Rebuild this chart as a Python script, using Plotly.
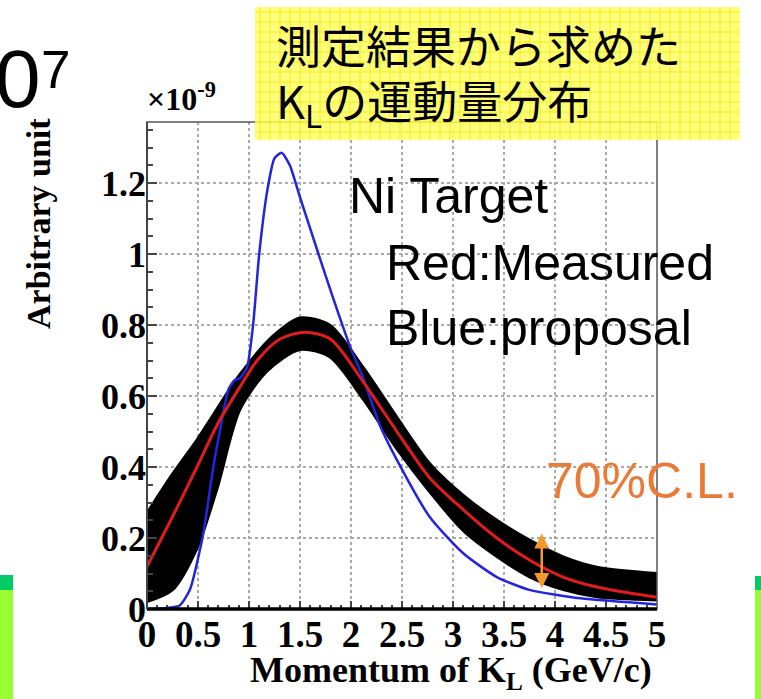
import plotly.graph_objects as go

# ---------------- data ----------------
blue_x = [0, 0.2, 0.32, 0.42, 0.55, 0.65, 0.72, 0.80, 0.86, 0.91, 0.98, 1.04, 1.10, 1.18,
          1.25, 1.32, 1.40, 1.50, 1.67, 1.82, 1.99, 2.12, 2.28, 2.45, 2.77, 3.10, 3.43,
          3.75, 4.25, 5.0]
blue_y = [0, 0.003, 0.01, 0.054, 0.21, 0.40, 0.51, 0.62, 0.645, 0.65, 0.68, 0.80, 1.00, 1.18,
          1.27, 1.285, 1.25, 1.16, 1.01, 0.88, 0.74, 0.65, 0.52, 0.42, 0.26, 0.157, 0.09,
          0.054, 0.03, 0.013]

red_x = [0, 0.25, 0.49, 0.69, 0.91, 1.08, 1.30, 1.55, 1.80, 2.12, 2.45, 2.77, 3.10, 3.43,
         3.75, 4.08, 4.41, 5.0]
red_y = [0.12, 0.26, 0.40, 0.52, 0.625, 0.70, 0.76, 0.78, 0.76, 0.64, 0.50, 0.37, 0.28, 0.20,
         0.138, 0.09, 0.062, 0.033]

band_up_x = [0, 0.25, 0.49, 0.59, 0.91, 1.24, 1.50, 1.79, 2.12, 2.45, 2.77, 3.10, 3.43, 3.75,
             4.08, 4.41, 5.0]
band_up_y = [0.27, 0.38, 0.476, 0.52, 0.66, 0.77, 0.82, 0.80, 0.68, 0.54, 0.41, 0.32, 0.25,
             0.194, 0.147, 0.118, 0.10]

band_lo_x = [0, 0.25, 0.49, 0.69, 0.91, 1.18, 1.50, 1.79, 2.12, 2.45, 2.77, 3.10, 3.43, 3.75,
             4.08, 4.41, 5.0]
band_lo_y = [0.02, 0.053, 0.17, 0.34, 0.56, 0.67, 0.73, 0.71, 0.59, 0.45, 0.33, 0.22, 0.147,
             0.09, 0.054, 0.034, 0.025]

arrow_x = 3.87
arrow_y = [0.059, 0.217]

x_ticks = [0, 0.5, 1, 1.5, 2, 2.5, 3, 3.5, 4, 4.5, 5]
x_ticklabels = ["0", "0.5", "1", "1.5", "2", "2.5", "3", "3.5", "4", "4.5", "5"]
y_ticks = [0, 0.2, 0.4, 0.6, 0.8, 1.0, 1.2]
y_ticklabels = ["0", "0.2", "0.4", "0.6", "0.8", "1", "1.2"]

# ---------------- geometry helpers (pixel -> paper) ----------------
W, H = 761, 699
L, R, T, B = 147, 657, 122, 609


def PX(px):
    return (px - L) / (R - L)


def PY(py):
    return (B - py) / (B - T)


fig = go.Figure()

# black 70% C.L. band
fig.add_trace(go.Scatter(x=band_lo_x, y=band_lo_y, mode="lines",
                         line=dict(color="black", width=2.5, shape="spline", smoothing=0.8),
                         hoverinfo="skip", showlegend=False))
fig.add_trace(go.Scatter(x=band_up_x, y=band_up_y, mode="lines", fill="tonexty",
                         fillcolor="black",
                         line=dict(color="black", width=3, shape="spline", smoothing=0.8),
                         hoverinfo="skip", showlegend=False))
# blue proposal
fig.add_trace(go.Scatter(x=blue_x, y=blue_y, mode="lines",
                         line=dict(color="#2424DD", width=2.5, shape="spline", smoothing=0.6),
                         showlegend=False))
# red measured
fig.add_trace(go.Scatter(x=red_x, y=red_y, mode="lines",
                         line=dict(color="#E21B1B", width=3, shape="spline", smoothing=0.8),
                         showlegend=False))

shapes = []
# plot frame
shapes.append(dict(type="rect", xref="paper", yref="paper", x0=0, x1=1, y0=0, y1=1,
                   line=dict(color="#555555", width=1.5), layer="above"))
shapes.append(dict(type="line", xref="paper", yref="paper", x0=0, x1=1, y0=0, y1=0,
                   line=dict(color="black", width=3.5), layer="above"))
shapes.append(dict(type="line", xref="paper", yref="paper", x0=0, x1=0, y0=0, y1=1,
                   line=dict(color="#444444", width=2), layer="above"))

# yellow box with grid
bx0, bx1, by0, by1 = 255, 740, 7, 140
shapes.append(dict(type="rect", xref="paper", yref="paper",
                   x0=PX(bx0), x1=PX(bx1), y0=PY(by1), y1=PY(by0),
                   fillcolor="rgba(255,255,105,0.88)", line=dict(width=0), layer="above"))
segs = []
gx = bx0 + 5
while gx < bx1:
    segs.append(f"M{PX(gx):.5f},{PY(by0):.5f} L{PX(gx):.5f},{PY(by1):.5f}")
    gx += 10
gy = by0 + 5
while gy < by1:
    segs.append(f"M{PX(bx0):.5f},{PY(gy):.5f} L{PX(bx1):.5f},{PY(gy):.5f}")
    gy += 10
shapes.append(dict(type="path", xref="paper", yref="paper", path=" ".join(segs),
                   line=dict(color="rgba(240,228,0,0.75)", width=1), layer="above"))

# green bars at the bottom edges
for (x0, x1, ytop) in [(-5, 13, 575), (755, 770, 576)]:
    shapes.append(dict(type="rect", xref="paper", yref="paper",
                       x0=PX(x0), x1=PX(x1), y0=PY(590), y1=PY(ytop),
                       fillcolor="#00CC66", line=dict(width=0), layer="above"))
    shapes.append(dict(type="rect", xref="paper", yref="paper",
                       x0=PX(x0), x1=PX(x1), y0=PY(710), y1=PY(590),
                       fillcolor="#99FF33", line=dict(width=0), layer="above"))

ann = []
sans = "Liberation Sans"
serif = "Liberation Serif"
jp = "Noto Sans CJK JP"

# big "0^7" fragment at top-left
ann.append(dict(xref="paper", yref="paper", x=PX(-7), y=PY(79), xanchor="left", yanchor="middle",
                text="0", showarrow=False, font=dict(family=sans, size=82, color="black")))
ann.append(dict(xref="paper", yref="paper", x=PX(39), y=PY(69), xanchor="left", yanchor="middle",
                text="7", showarrow=False, font=dict(family=sans, size=53, color="black")))

# Japanese box text
ann.append(dict(xref="paper", yref="paper", x=PX(274), y=PY(45), xanchor="left", yanchor="middle",
                text="測定結果から求めた", showarrow=False,
                font=dict(family=jp, size=45, color="black")))
ann.append(dict(xref="paper", yref="paper", x=PX(274), y=PY(102), xanchor="left", yanchor="middle",
                text="K<sub>L</sub>の運動量分布", showarrow=False,
                font=dict(family=jp, size=45, color="black")))

# legend-like text
ann.append(dict(xref="paper", yref="paper", x=PX(347), y=PY(196), xanchor="left", yanchor="middle",
                text="Ni Target", showarrow=False, font=dict(family=sans, size=50, color="black")))
ann.append(dict(xref="paper", yref="paper", x=PX(384), y=PY(263), xanchor="left", yanchor="middle",
                text="Red:Measured", showarrow=False, font=dict(family=sans, size=50, color="black")))
ann.append(dict(xref="paper", yref="paper", x=PX(384), y=PY(328), xanchor="left", yanchor="middle",
                text="Blue:proposal", showarrow=False, font=dict(family=sans, size=50, color="black")))
ann.append(dict(xref="paper", yref="paper", x=PX(544), y=PY(481), xanchor="left", yanchor="middle",
                text="70%C.L.", showarrow=False, font=dict(family=sans, size=50, color="#EA7A35")))

# orange double arrow
ann.append(dict(x=arrow_x, y=arrow_y[0], ax=arrow_x, ay=arrow_y[1], xref="x", yref="y",
                axref="x", ayref="y", text="", showarrow=True, arrowside="end+start",
                arrowhead=2, arrowsize=1.2, arrowwidth=2.5, arrowcolor="#F39A2E"))

# axis titles
ann.append(dict(xref="paper", yref="paper", x=PX(145), y=PY(119), xanchor="left", yanchor="bottom",
                text="×10<sup>-9</sup>", showarrow=False,
                font=dict(family=serif, size=32, color="black", weight="bold")))
ann.append(dict(xref="paper", yref="paper", x=PX(38), y=PY(224), xanchor="center", yanchor="middle",
                text="Arbitrary unit", textangle=-90, showarrow=False,
                font=dict(family=serif, size=34, color="black", weight="bold")))
ann.append(dict(xref="paper", yref="paper", x=PX(451), y=PY(672), xanchor="center", yanchor="middle",
                text="Momentum of K<sub>L</sub> (GeV/c)", showarrow=False,
                font=dict(family=serif, size=36, color="black", weight="bold")))

fig.update_layout(
    width=W, height=H,
    margin=dict(l=L, r=W - R, t=T, b=H - B, pad=0),
    paper_bgcolor="white", plot_bgcolor="white",
    shapes=shapes, annotations=ann, showlegend=False,
    xaxis=dict(range=[0, 5], tickvals=x_ticks, ticktext=x_ticklabels,
               showgrid=True, gridcolor="#AAAAAA", griddash="dot", gridwidth=1.5,
               zeroline=False, showline=False,
               ticks="inside", ticklen=8, tickwidth=1.5, tickcolor="#444444",
               minor=dict(dtick=0.1, ticks="inside", ticklen=4, tickcolor="#444444", showgrid=False),
               tickfont=dict(family=serif, size=37, color="black", weight="bold")),
    yaxis=dict(range=[0, 1.372], tickvals=y_ticks, ticktext=y_ticklabels,
               showgrid=True, gridcolor="#AAAAAA", griddash="dot", gridwidth=1.5,
               zeroline=False, showline=False,
               ticks="inside", ticklen=10, tickwidth=2, tickcolor="#444444",
               minor=dict(dtick=0.05, ticks="inside", ticklen=6, tickwidth=1.5,
                          tickcolor="#444444", showgrid=False),
               tickfont=dict(family=serif, size=36, color="black", weight="bold")),
)

fig.write_html("out.html", config={"displayModeBar": False},
               post_script="document.body.style.margin='0';document.body.style.overflow='hidden';")
